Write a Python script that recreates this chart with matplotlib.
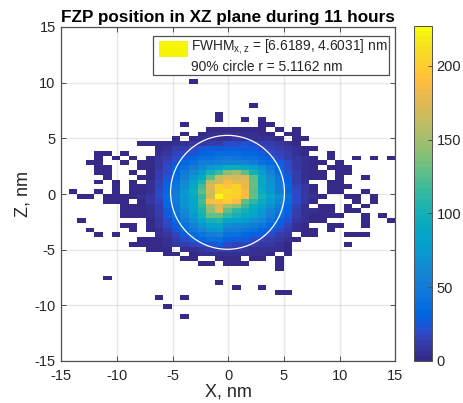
import numpy as np
import matplotlib
matplotlib.use('Agg')
import matplotlib.pyplot as plt
from matplotlib.colors import ListedColormap
from matplotlib.patches import Circle, Patch, Rectangle
from matplotlib.lines import Line2D
from matplotlib.legend_handler import HandlerPatch

plt.rcParams['font.family'] = ['Liberation Sans', 'DejaVu Sans']
plt.rcParams['mathtext.default'] = 'regular'
plt.rcParams['axes.unicode_minus'] = False

x_range = [-14.34, 15.0]
z_range = [10.35, -11.21]
x_ticks = [-15, -10, -5, 0, 5, 10, 15]
z_ticks = [-15, -10, -5, 0, 5, 10, 15]
cbar_ticks = [0, 50, 100, 150, 200]
color_max = 227
circle_center = [-0.07, 0.15]
circle_radius = 5.1162

title = 'FZP position in XZ plane during 11 hours'
x_label = 'X, nm'
z_label = 'Z, nm'
legend_fwhm = r'FWHM$_{x,z}$ = [6.6189, 4.6031] nm'
legend_circle = '90% circle r = 5.1162 nm'

# histogram counts, top row first, 38 columns
counts = [
 [0,0,0,0,0,0,0,0,0,0, 0,0,0,0,1,0,0,0,0,0, 0,0,0,0,0,0,0,0,0,0, 0,0,0,0,0,0,0,0],
 [0,0,0,0,0,0,0,0,0,0, 0,0,0,0,0,0,0,0,0,0, 0,0,0,0,0,0,0,0,0,0, 0,0,0,0,0,0,0,0],
 [0,0,0,0,0,0,0,0,0,0, 0,0,0,0,0,0,0,0,0,0, 0,0,0,0,0,0,0,0,0,0, 0,0,0,0,0,0,0,0],
 [0,0,0,0,0,0,0,0,0,0, 0,0,0,0,0,0,0,0,0,0, 0,0,0,0,0,0,0,0,0,0, 0,0,0,0,0,0,0,0],
 [0,0,0,0,0,0,0,0,0,0, 0,0,0,0,0,0,0,0,0,0, 0,0,0,0,0,0,0,0,0,0, 0,0,0,0,0,0,0,0],
 [0,0,0,0,0,0,0,0,0,0, 0,0,0,0,0,0,0,0,0,0, 0,1,0,0,0,0,0,0,0,0, 0,0,0,0,0,0,0,0],
 [0,0,0,0,0,0,0,0,0,0, 0,0,0,0,0,0,0,0,0,0, 0,0,0,0,0,0,0,0,0,0, 0,0,0,0,0,0,0,0],
 [0,0,0,0,0,0,0,0,0,0, 0,0,0,0,0,0,0,1,0,0, 0,0,0,0,0,0,0,0,0,0, 0,0,0,0,0,0,0,0],
 [0,0,0,0,0,0,0,0,0,0, 0,0,0,0,0,0,0,1,0,0, 1,0,1,0,0,0,0,0,0,0, 0,0,0,0,0,0,0,0],
 [0,0,0,0,0,0,0,0,0,0, 0,0,0,1,0,0,0,0,0,0, 0,0,1,1,0,0,0,0,0,0, 0,0,0,0,0,0,0,0],
 [0,0,0,0,0,0,0,0,0,0, 0,0,0,0,0,0,2,3,2,3, 2,2,2,0,1,0,1,0,0,0, 0,0,0,0,0,0,0,0],
 [0,0,0,0,0,0,0,0,0,0, 0,0,0,1,0,2,4,4,5,6, 5,4,3,2,0,1,2,0,0,0, 0,0,0,0,0,0,0,0],
 [0,0,0,0,0,0,0,0,0,0, 0,0,1,0,3,4,6,6,7,8, 7,6,5,4,2,0,2,1,0,0, 0,0,0,0,0,0,0,0],
 [0,0,0,0,0,0,0,0,1,1, 2,3,4,6,8,10,11,14,18,20, 22,18,14,12,9,5,3,0,0,0, 0,0,0,0,0,0,0,0],
 [0,0,0,0,0,0,0,0,0,0, 3,6,12,14,20,22,25,28,28,28, 28,25,20,15,12,10,6,3,1,0, 0,0,0,0,0,0,0,0],
 [0,0,0,1,1,0,1,0,0,0, 6,10,15,18,24,30,35,36,36,36, 35,32,28,20,15,12,7,3,0,0, 1,0,0,0,0,0,0,0],
 [0,0,0,1,0,1,0,1,0,1, 8,14,18,25,32,40,42,45,48,46, 42,40,35,28,20,14,8,4,2,0, 1,0,0,1,0,1,0,1],
 [0,0,1,1,0,0,1,0,1,3, 9,16,24,35,42,50,50,55,60,58, 55,50,42,36,26,18,9,5,3,1, 0,1,0,0,0,0,0,0],
 [0,0,0,1,1,0,0,0,1,3, 10,18,30,40,52,60,72,85,95,95, 90,80,65,48,34,20,10,5,2,0, 1,1,1,0,0,0,0,0],
 [0,0,0,1,1,0,0,1,0,2, 11,20,35,48,62,78,100,115,140,150, 125,100,80,55,38,24,12,6,3,1, 0,1,1,0,0,0,0,0],
 [0,0,0,0,1,0,0,0,1,3, 13,24,38,55,72,90,125,165,172,170, 172,125,90,65,45,28,14,7,3,1, 0,1,0,0,1,0,0,0],
 [0,0,0,1,0,1,0,1,0,4, 15,28,42,62,82,105,160,170,185,178, 178,128,92,68,48,30,14,6,0,0, 1,1,0,0,0,0,0,0],
 [0,0,0,0,0,1,0,2,1,5, 16,30,46,66,90,118,175,205,195,205, 180,128,92,70,50,32,15,8,2,0, 1,1,1,0,0,0,0,0],
 [1,0,0,1,0,1,0,2,3,6, 18,34,48,72,95,125,170,205,210,200, 185,125,95,72,52,34,18,8,2,0, 1,1,0,0,1,0,0,0],
 [0,1,1,0,1,1,1,2,4,8, 18,36,50,72,90,115,170,228,205,200, 185,130,100,85,65,42,20,10,4,1, 0,0,1,1,0,1,0,0],
 [0,0,0,0,1,1,1,0,3,8, 16,34,48,70,88,118,190,195,200,185, 125,110,95,75,60,38,18,8,2,0, 0,0,0,1,0,1,0,0],
 [0,0,0,0,0,0,1,2,3,7, 14,32,46,68,85,110,150,175,150,140, 115,95,85,70,52,34,15,6,0,1, 1,0,1,0,1,0,0,0],
 [0,0,0,0,0,0,1,2,3,6, 12,28,44,62,82,105,145,180,130,110, 100,90,75,60,45,30,14,6,4,2, 1,0,1,1,0,0,0,0],
 [0,0,0,0,0,0,1,1,2,5, 12,25,40,58,75,100,130,130,110,100, 90,85,70,55,40,26,12,5,3,2, 1,1,0,0,1,0,1,0],
 [0,1,0,0,0,0,0,0,0,3, 10,20,35,50,65,85,100,105,85,80, 75,65,60,45,30,22,10,4,2,1, 0,0,0,0,1,0,0,1],
 [0,0,0,0,0,0,1,1,0,3, 8,18,28,42,55,70,85,85,65,60, 60,50,45,35,25,16,7,2,0,0, 1,1,0,0,1,0,0,0],
 [0,0,1,0,0,0,0,1,0,2, 7,14,22,36,48,58,70,72,50,50, 45,40,35,25,18,12,6,3,1,0, 1,0,0,0,0,0,0,0],
 [0,0,0,1,0,1,0,0,0,0, 4,10,16,28,36,44,52,55,40,40, 35,30,25,18,12,8,0,2,1,0, 0,0,1,1,1,0,0,0],
 [0,0,0,0,0,0,0,0,1,2, 3,7,12,18,26,32,40,42,30,28, 25,20,15,12,8,4,1,0,0,0, 0,0,0,0,0,0,0,0],
 [0,0,0,0,0,0,0,1,1,2, 3,5,8,12,16,20,24,25,18,16, 15,12,10,8,6,3,0,0,0,0, 0,0,1,0,0,0,0,0],
 [0,0,0,0,0,0,0,0,0,1, 2,3,0,5,7,9,11,13,12,10, 8,7,6,5,4,2,0,0,0,0, 0,0,0,0,0,0,0,0],
 [0,0,0,0,0,0,0,0,0,0, 0,1,2,0,2,4,5,6,7,5, 5,4,4,3,0,1,0,0,0,0, 0,0,0,0,0,0,0,0],
 [0,0,0,0,0,0,0,0,0,0, 0,0,0,1,1,0,0,2,2,1, 0,1,1,0,1,0,0,0,0,0, 0,0,0,0,0,0,0,0],
 [0,0,0,0,0,0,0,0,0,0, 0,0,0,0,0,1,1,0,1,1, 1,0,0,0,1,0,0,0,0,0, 0,0,0,0,0,0,0,0],
 [0,0,0,0,0,0,0,0,0,0, 0,0,0,0,0,0,0,0,0,0, 0,0,0,0,1,0,0,0,0,0, 0,0,0,0,0,0,0,0],
 [0,0,0,0,0,0,0,0,0,0, 0,0,0,0,0,0,0,0,0,0, 0,0,0,0,0,0,0,0,0,0, 0,0,0,0,0,0,0,0],
 [0,0,0,0,1,0,0,0,0,0, 0,0,0,0,0,0,0,0,0,0, 0,0,0,0,0,0,0,0,0,0, 0,0,0,0,0,0,0,0],
 [0,0,0,0,0,0,0,0,0,0, 0,0,0,0,0,0,0,1,0,0, 0,0,0,0,0,0,0,0,0,0, 0,0,0,0,0,0,0,0],
 [0,0,0,0,0,0,0,0,0,0, 0,0,0,0,0,0,0,0,0,1, 0,0,1,0,0,0,0,0,0,0, 0,0,0,0,0,0,0,0],
 [0,0,0,0,0,0,0,0,0,0, 0,0,0,0,0,0,0,0,0,0, 0,0,0,0,1,1,0,0,0,0, 0,0,0,0,0,0,0,0],
 [0,0,0,0,0,0,0,0,0,0, 1,0,0,1,0,0,0,0,0,0, 0,0,0,0,0,0,0,0,0,0, 0,0,0,0,0,0,0,0],
 [0,0,0,0,0,0,0,0,0,0, 0,0,0,0,0,0,0,0,0,0, 0,0,0,0,0,0,0,0,0,0, 0,0,0,0,0,0,0,0],
 [0,0,0,0,0,0,0,0,0,0, 0,1,0,0,0,0,0,0,0,0, 0,0,0,0,0,0,0,0,0,0, 0,0,0,0,0,0,0,0],
 [0,0,0,0,0,0,0,0,0,0, 0,0,0,0,0,0,0,0,0,0, 0,0,0,0,0,0,0,0,0,0, 0,0,0,0,0,0,0,0],
 [0,0,0,0,0,0,0,0,0,0, 0,0,0,1,0,0,0,0,0,0, 0,0,0,0,0,0,0,0,0,0, 0,0,0,0,0,0,0,0],
]

parula = ListedColormap([
 (.2081,.1663,.5292),(.2116,.1898,.5777),(.2123,.2138,.6270),(.2081,.2386,.6771),
 (.1959,.2645,.7279),(.1707,.2919,.7792),(.1253,.3242,.8303),(.0591,.3598,.8683),
 (.0117,.3875,.8820),(.0060,.4086,.8828),(.0165,.4266,.8786),(.0329,.4430,.8720),
 (.0498,.4586,.8641),(.0629,.4737,.8554),(.0723,.4887,.8467),(.0779,.5040,.8384),
 (.0793,.5200,.8312),(.0749,.5375,.8263),(.0641,.5570,.8240),(.0488,.5772,.8228),
 (.0343,.5966,.8199),(.0265,.6137,.8135),(.0239,.6287,.8038),(.0231,.6418,.7913),
 (.0228,.6535,.7768),(.0267,.6642,.7607),(.0384,.6743,.7436),(.0590,.6838,.7254),
 (.0843,.6928,.7062),(.1133,.7015,.6859),(.1453,.7098,.6646),(.1801,.7177,.6424),
 (.2178,.7250,.6193),(.2586,.7317,.5954),(.3022,.7376,.5712),(.3482,.7424,.5473),
 (.3953,.7459,.5244),(.4420,.7481,.5033),(.4871,.7491,.4840),(.5300,.7491,.4661),
 (.5709,.7485,.4494),(.6099,.7473,.4337),(.6473,.7456,.4188),(.6834,.7435,.4044),
 (.7184,.7411,.3905),(.7525,.7384,.3768),(.7858,.7356,.3633),(.8185,.7327,.3498),
 (.8507,.7299,.3360),(.8824,.7274,.3217),(.9139,.7258,.3063),(.9450,.7261,.2886),
 (.9739,.7314,.2666),(.9938,.7455,.2403),(.9990,.7653,.2164),(.9955,.7861,.1967),
 (.9880,.8066,.1794),(.9789,.8271,.1633),(.9697,.8481,.1475),(.9626,.8705,.1309),
 (.9589,.8949,.1132),(.9598,.9218,.0948),(.9661,.9514,.0755),(.9763,.9831,.0538),
])

W, H = 464, 403
fig = plt.figure(figsize=(W / 100, H / 100), dpi=100, facecolor='white')
ax = fig.add_axes([61.3 / W, (H - 361) / H, 334 / W, 334 / H])
EDGE = '#505050'

grid = np.array(counts, dtype=float)
masked = np.ma.masked_equal(grid, 0)
x_edges = np.linspace(x_range[0], x_range[1], grid.shape[1] + 1)
z_edges = np.linspace(z_range[0], z_range[1], grid.shape[0] + 1)
mesh = ax.pcolormesh(x_edges, z_edges, masked, cmap=parula, vmin=0, vmax=color_max,
                     antialiased=False, zorder=2)

ax.add_patch(Circle(circle_center, circle_radius, fill=False, edgecolor='white',
                    linewidth=0.9, zorder=3))

ax.set_xlim(-15, 15)
ax.set_ylim(-15, 15)
ax.set_xticks(x_ticks)
ax.set_yticks(z_ticks)
ax.grid(True, color='black', alpha=0.09, linewidth=1.0, zorder=1)
ax.set_axisbelow(True)
ax.tick_params(direction='in', top=True, right=True, length=3.3, width=0.7,
               color=EDGE, labelcolor='#262626', labelsize=10.5)
ax.tick_params(axis='x', pad=5.5)
ax.tick_params(axis='y', pad=4)
for s in ax.spines.values():
    s.set_color(EDGE)
    s.set_linewidth(0.9)
    s.set_zorder(5)
ax.set_xlabel(x_label, fontsize=13, color='#262626', labelpad=0.5)
ax.set_ylabel(z_label, fontsize=13, color='#262626', labelpad=2)
ax.set_title(title, fontsize=12.3, fontweight='bold', color='black', pad=3.5)


def legend_patch(legend, orig_handle, xdescent, ydescent, width, height, fontsize):
    return Rectangle((-xdescent + 3.6, -ydescent - 4.7), 20.9, 11.5)


handles = [Patch(facecolor='#f5f505', edgecolor='none'),
           Line2D([], [], linestyle='none')]
leg = ax.legend(handles, [legend_fwhm, legend_circle], loc='upper left',
                bbox_to_anchor=((153.3 - 61.3) / 334, (361 - 36) / 334),
                borderaxespad=0, fontsize=9.9, handlelength=2.5, handleheight=0.75,
                handletextpad=0.2, labelspacing=0.3, borderpad=0.06,
                fancybox=False, framealpha=1, edgecolor=EDGE,
                labelcolor='#262626',
                handler_map={Patch: HandlerPatch(patch_func=legend_patch)})
leg.get_frame().set_linewidth(0.9)
leg.set_zorder(6)

cax = fig.add_axes([414 / W, (H - 361) / H, 18.5 / W, 335 / H])
cb = fig.colorbar(mesh, cax=cax)
cb.set_ticks(cbar_ticks)
cb.ax.tick_params(direction='in', length=3, width=0.7, color=EDGE,
                  labelcolor='#262626', labelsize=10.5, pad=3)
cb.outline.set_edgecolor(EDGE)
cb.outline.set_linewidth(0.7)

fig.savefig('out.png', dpi=100)
